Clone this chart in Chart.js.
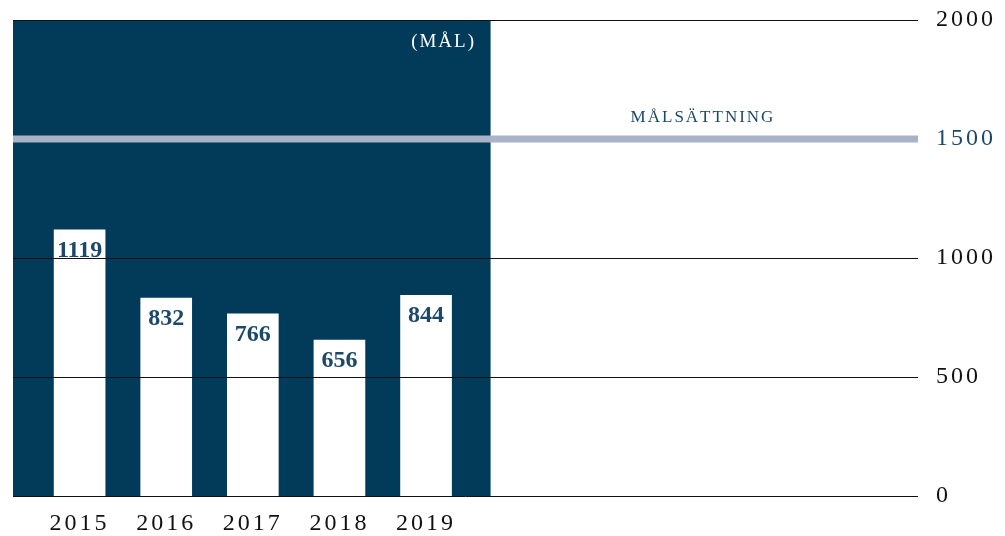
<!DOCTYPE html>
<html>
<head>
<meta charset="utf-8">
<script src="https://cdn.jsdelivr.net/npm/chart.js@4"></script>
<style>
  html, body { margin: 0; padding: 0; background: #fff; }
  #wrap { width: 1005px; height: 536px; }
</style>
</head>
<body>
<div id="wrap"><canvas id="chart"></canvas></div>
<script>
const years = [2015, 2016, 2017, 2018, 2019];
const values = [1119, 832, 766, 656, 844];
const yTicks = [0, 500, 1000, 1500, 2000];
const target = 1500;
const targetLabel = 'MÅLSÄTTNING';
const unitLabel = '(MÅL)';
const shadeEnd = 2019.745;

const navy = '#023a5a';
const labelNavy = '#1c4869';

const spacing = {
  id: 'spacing',
  beforeUpdate: (chart) => { chart.ctx.letterSpacing = '3px'; },
  beforeDraw: (chart) => { chart.ctx.letterSpacing = '3px'; }
};

const shade = {
  id: 'shade',
  beforeDatasetsDraw: (chart) => {
    const { ctx, chartArea: { top, bottom, left }, scales: { x } } = chart;
    ctx.save();
    ctx.fillStyle = navy;
    ctx.fillRect(left, top, x.getPixelForValue(shadeEnd) - left, bottom - top);
    ctx.restore();
  }
};

const overlay = {
  id: 'overlay',
  afterDraw: (chart) => {
    const { ctx, chartArea: { top, left, right }, scales: { x, y } } = chart;
    ctx.save();
    // target line
    const ty = y.getPixelForValue(target);
    ctx.strokeStyle = '#a9b2c6';
    ctx.lineWidth = 7;
    ctx.beginPath();
    ctx.moveTo(left, ty);
    ctx.lineTo(right, ty);
    ctx.stroke();

    ctx.letterSpacing = '2px';
    ctx.textAlign = 'center';
    ctx.textBaseline = 'middle';
    ctx.fillStyle = labelNavy;
    ctx.font = '17px "Liberation Serif"';
    ctx.fillText(targetLabel, 703, ty - 22);

    ctx.fillStyle = '#ffffff';
    ctx.font = '19px "Liberation Serif"';
    ctx.fillText(unitLabel, x.getPixelForValue(shadeEnd) - 47, top + 22);

    // bar values
    ctx.letterSpacing = '0px';
    ctx.fillStyle = labelNavy;
    ctx.font = 'bold 24px "Liberation Serif"';
    const meta = chart.getDatasetMeta(0);
    meta.data.forEach((bar, i) => {
      ctx.fillText(String(values[i]), bar.x, bar.y + 21);
    });
    ctx.restore();
  }
};

new Chart(document.getElementById('chart'), {
  type: 'bar',
  data: {
    datasets: [{
      data: years.map((yr, i) => ({ x: yr, y: values[i] })),
      backgroundColor: '#ffffff',
      borderWidth: 0,
      barThickness: 51
    }]
  },
  options: {
    responsive: true,
    maintainAspectRatio: false,
    animation: false,
    layout: { padding: { left: 13, top: 20, right: -9, bottom: -15 } },
    plugins: {
      legend: { display: false },
      tooltip: { enabled: false }
    },
    scales: {
      x: {
        type: 'linear',
        offset: false,
        min: 2014.231,
        max: 2024.68,
        grid: { display: false, drawTicks: false, offset: false },
        border: { display: false },
        afterBuildTicks: (scale) => {
          scale.ticks = years.map(v => ({ value: v }));
        },
        ticks: {
          autoSkip: false,
          maxRotation: 0,
          padding: 13,
          color: '#111111',
          font: { family: '"Liberation Serif"', size: 24 },
          callback: (v) => String(v)
        }
      },
      y: {
        position: 'right',
        min: 0,
        max: 2000,
        afterBuildTicks: (scale) => {
          scale.ticks = yTicks.map(v => ({ value: v }));
        },
        afterFit: (scale) => {
          scale.paddingTop = 0;
          scale.paddingBottom = 0;
        },
        grid: {
          z: 1,
          color: '#111111',
          lineWidth: 1,
          drawTicks: false
        },
        border: { display: false },
        ticks: {
          padding: 18,
          color: (c) => c.tick && c.tick.value === target ? labelNavy : '#111111',
          font: { family: '"Liberation Serif"', size: 24 },
          callback: (v) => String(v)
        }
      }
    }
  },
  plugins: [spacing, shade, overlay]
});
</script>
</body>
</html>
